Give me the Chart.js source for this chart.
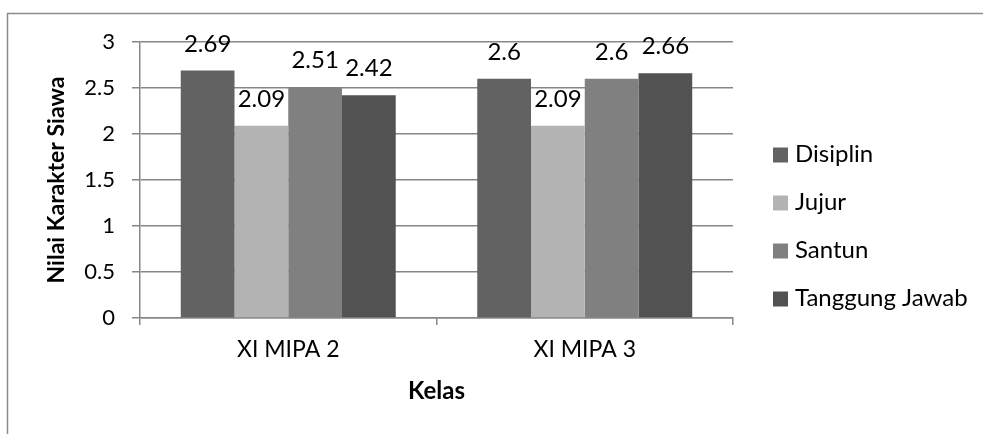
<!DOCTYPE html>
<html>
<head>
<meta charset="utf-8">
<script src="https://cdn.jsdelivr.net/npm/chart.js@4.4.1/dist/chart.umd.min.js"></script>
<style>
  html, body { margin: 0; padding: 0; background: #ffffff; }
  #wrap { position: relative; width: 983px; height: 434px; }
</style>
</head>
<body>
<div id="wrap"><canvas id="chart" width="983" height="434"></canvas></div>
<script>
// Class groups and the four character scores per class
const categories = ['XI MIPA 2', 'XI MIPA 3'];
const seriesNames = ['Disiplin', 'Jujur', 'Santun', 'Tanggung Jawab'];
const disiplin = [2.69, 2.6];
const jujur = [2.09, 2.09];
const santun = [2.51, 2.6];
const tanggungJawab = [2.42, 2.66];
const yTicks = [0, 0.5, 1, 1.5, 2, 2.5, 3];

const seriesColors = ['#626262', '#b3b3b3', '#808080', '#525252'];
const gridColor = '#878787';
const fontFamily = 'Lato, "Open Sans", sans-serif';

// Outer frame (top and left edges only)
const framePlugin = {
  id: 'frame',
  beforeDraw(chart) {
    const ctx = chart.ctx;
    ctx.save();
    ctx.strokeStyle = '#8c8c8c';
    ctx.lineWidth = 1.5;
    ctx.beginPath();
    ctx.moveTo(7.5, chart.height);
    ctx.lineTo(7.5, 13.5);
    ctx.lineTo(chart.width, 13.5);
    ctx.stroke();
    ctx.restore();
  }
};

// Value labels above each bar
const valueLabels = {
  id: 'valueLabels',
  afterDatasetsDraw(chart) {
    const ctx = chart.ctx;
    ctx.save();
    ctx.font = '24px ' + fontFamily;
    ctx.fillStyle = '#000000';
    ctx.textAlign = 'center';
    ctx.textBaseline = 'alphabetic';
    chart.data.datasets.forEach((ds, i) => {
      const meta = chart.getDatasetMeta(i);
      meta.data.forEach((bar, j) => {
        ctx.fillText(String(ds.data[j]), bar.x, bar.y - 19);
      });
    });
    ctx.restore();
  }
};

// Legend on the right side, one entry per series
const sideLegend = {
  id: 'sideLegend',
  afterDraw(chart) {
    const ctx = chart.ctx;
    const x0 = chart.chartArea.right + 40;
    const yStart = 155;
    const step = 48;
    ctx.save();
    ctx.font = '24px ' + fontFamily;
    ctx.textAlign = 'left';
    ctx.textBaseline = 'middle';
    chart.data.datasets.forEach((ds, i) => {
      const y = yStart + i * step;
      ctx.fillStyle = ds.backgroundColor;
      ctx.fillRect(x0, y - 7.5, 15, 15);
      ctx.fillStyle = '#000000';
      ctx.fillText(ds.label, x0 + 22, y - 1);
    });
    ctx.restore();
  }
};

const valueSets = [disiplin, jujur, santun, tanggungJawab];

new Chart(document.getElementById('chart'), {
  type: 'bar',
  data: {
    labels: categories,
    datasets: seriesNames.map((name, i) => ({
      label: name,
      data: valueSets[i],
      backgroundColor: seriesColors[i],
      borderWidth: 0,
      categoryPercentage: 0.725,
      barPercentage: 1.0
    }))
  },
  options: {
    responsive: false,
    devicePixelRatio: 1,
    animation: false,
    layout: { padding: { left: 40, right: 250, top: 42, bottom: 25 } },
    plugins: {
      legend: { display: false },
      tooltip: { enabled: false }
    },
    scales: {
      x: {
        offset: true,
        afterFit(scale) { scale.height = 91; },
        grid: {
          offset: true,
          drawOnChartArea: false,
          drawTicks: true,
          tickLength: 7,
          color: gridColor,
          lineWidth: 1.5
        },
        border: { display: true, color: gridColor, width: 1.5 },
        ticks: {
          padding: 11,
          color: '#000000',
          font: { family: fontFamily, size: 23 }
        },
        title: {
          display: true,
          text: 'Kelas',
          color: '#000000',
          font: { family: fontFamily, size: 24, weight: 'bold' },
          padding: { top: 4, bottom: 3 }
        }
      },
      y: {
        min: 0,
        max: 3,
        afterFit(scale) { scale.width = 100; },
        afterBuildTicks(scale) { scale.ticks = yTicks.map(v => ({ value: v })); },
        grid: {
          color: gridColor,
          lineWidth: 1.5,
          tickLength: 8
        },
        border: { display: true, color: gridColor, width: 1.5 },
        ticks: {
          padding: 17,
          color: '#000000',
          font: { family: fontFamily, size: 22 },
          callback: v => String(v)
        },
        title: {
          display: true,
          text: 'Nilai Karakter Siawa',
          color: '#000000',
          font: { family: fontFamily, size: 23, weight: 'bold' },
          padding: { top: 3, bottom: 4 }
        }
      }
    }
  },
  plugins: [framePlugin, valueLabels, sideLegend]
});
</script>
</body>
</html>
